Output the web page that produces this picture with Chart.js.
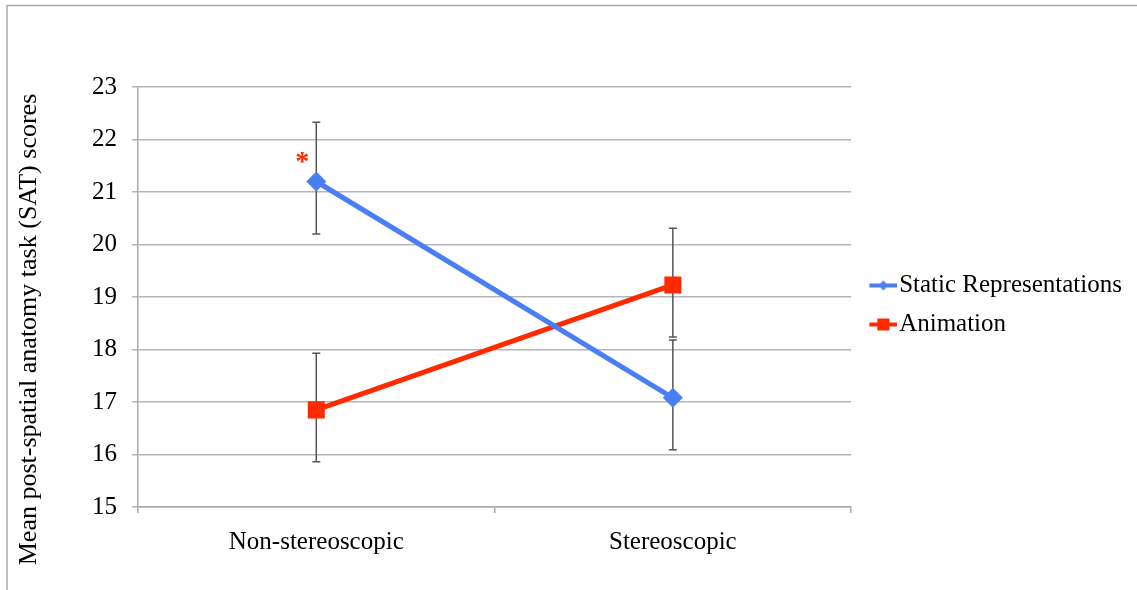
<!DOCTYPE html>
<html>
<head>
  <meta charset="utf-8" />
  <title>SAT scores</title>
  <script src="https://cdn.jsdelivr.net/npm/chart.js"></script>
  <style>
    html, body { margin: 0; padding: 0; background: #fff; }
    #wrap { width: 1137px; height: 590px; }
  </style>
</head>
<body>
  <div id="wrap"><canvas id="chart" width="1137" height="590"></canvas></div>
<script>
  // categories and values
  const categories = ["Non-stereoscopic", "Stereoscopic"];
  const staticValues = [21.2, 17.08];
  const staticUpper = [22.33, 18.18];
  const staticLower = [20.2, 16.09];
  const animationValues = [16.85, 19.23];
  const animationUpper = [17.93, 20.31];
  const animationLower = [15.86, 18.24];
  const yTicks = [15, 16, 17, 18, 19, 20, 21, 22, 23];
  const starMarks = [{ index: 0, value: 21.68 }];

  const blue = "#4a7ef5";
  const red = "#ff2a00";
  const serif = "'Liberation Serif', 'Times New Roman', serif";

  // legend icon: short line with marker, drawn in the right part of the image
  function legendIcon(color, shape) {
    const c = document.createElement("canvas");
    c.width = 43; c.height = 14;
    const ctx = c.getContext("2d");
    const o = 15;
    ctx.strokeStyle = color;
    ctx.lineWidth = 4;
    ctx.beginPath(); ctx.moveTo(o, 7); ctx.lineTo(o + 28, 7); ctx.stroke();
    ctx.fillStyle = color;
    if (shape === "diamond") {
      ctx.beginPath();
      ctx.moveTo(o + 14, 2); ctx.lineTo(o + 19, 7); ctx.lineTo(o + 14, 12); ctx.lineTo(o + 9, 7);
      ctx.closePath(); ctx.fill();
    } else {
      ctx.fillRect(o + 8, 1, 12, 12);
    }
    return c;
  }

  const errorBars = {
    id: "errorBars",
    beforeDatasetsDraw(chart) {
      const x = chart.scales.x, y = chart.scales.y, ctx = chart.ctx;
      const sets = [[staticUpper, staticLower], [animationUpper, animationLower]];
      ctx.save();
      ctx.strokeStyle = "#555";
      ctx.lineWidth = 1.5;
      sets.forEach(([up, lo]) => {
        up.forEach((u, i) => {
          const px = x.getPixelForValue(i);
          const top = y.getPixelForValue(u);
          const bot = y.getPixelForValue(lo[i]);
          ctx.beginPath();
          ctx.moveTo(px, top); ctx.lineTo(px, bot);
          ctx.moveTo(px - 4, top); ctx.lineTo(px + 4, top);
          ctx.moveTo(px - 4, bot); ctx.lineTo(px + 4, bot);
          ctx.stroke();
        });
      });
      ctx.restore();
    },
    afterDatasetsDraw(chart) {
      const x = chart.scales.x, y = chart.scales.y, ctx = chart.ctx;
      ctx.save();
      ctx.fillStyle = red;
      ctx.font = "bold 28px " + serif;
      ctx.textAlign = "center";
      ctx.textBaseline = "middle";
      starMarks.forEach((s) => {
        ctx.fillText("*", x.getPixelForValue(s.index) - 14, y.getPixelForValue(s.value) + 6);
      });
      ctx.restore();
    }
  };

  const frame = {
    id: "frame",
    beforeDraw(chart) {
      const ctx = chart.ctx;
      ctx.save();
      ctx.strokeStyle = "#a8a8a8";
      ctx.lineWidth = 1.5;
      ctx.beginPath();
      ctx.moveTo(7, chart.height); ctx.lineTo(7, 5.5); ctx.lineTo(chart.width, 5.5);
      ctx.stroke();
      ctx.restore();
    },
    // the legend sits a bit above the middle of its box
    afterLayout(chart) {
      chart.legend.top -= 24;
      chart.legend.bottom -= 24;
    }
  };

  new Chart(document.getElementById("chart"), {
    type: "line",
    data: {
      labels: categories,
      datasets: [
        {
          label: "Static Representations",
          data: staticValues,
          borderColor: blue,
          backgroundColor: blue,
          borderWidth: 5,
          pointStyle: "rectRot",
          pointRadius: 6.5,
          tension: 0,
        },
        {
          label: "Animation",
          data: animationValues,
          borderColor: red,
          backgroundColor: red,
          borderWidth: 5,
          pointStyle: "rect",
          pointRadius: 8.5,
          tension: 0,
        },
      ],
    },
    options: {
      responsive: false,
      animation: false,
      layout: { padding: { top: 87, left: 10, right: 5.5, bottom: 19 } },
      plugins: {
        tooltip: { enabled: false },
        legend: {
          position: "right",
          labels: {
            color: "#000",
            font: { family: serif, size: 25 },
            usePointStyle: true,
            boxWidth: 21.5,
            boxHeight: 14,
            padding: 14,
            generateLabels() {
              return [
                { text: "Static Representations", pointStyle: legendIcon(blue, "diamond"), datasetIndex: 0, fontColor: "#000" },
                { text: "Animation", pointStyle: legendIcon(red, "square"), datasetIndex: 1, fontColor: "#000" },
              ];
            },
          },
        },
      },
      scales: {
        x: {
          offset: true,
          grid: { offset: true, drawOnChartArea: false, color: "#aaa", lineWidth: 1.5, tickLength: 6 },
          border: { color: "#aaa", width: 1.5 },
          ticks: { color: "#000", font: { family: serif, size: 25 }, padding: 14 },
        },
        y: {
          min: 15,
          max: 23,
          afterBuildTicks(scale) { scale.ticks = yTicks.map((v) => ({ value: v })); },
          afterFit(scale) { scale.width = 128; },
          grid: { color: "#b5b5b5", lineWidth: 1.5, tickLength: 6 },
          border: { color: "#aaa", width: 1.5 },
          ticks: { color: "#000", font: { family: serif, size: 25 }, padding: 15 },
          title: {
            display: true,
            text: "Mean post-spatial anatomy task (SAT) scores          ",
            color: "#000",
            font: { family: serif, size: 26 },
            padding: { top: 4, bottom: 0 },
          },
        },
      },
    },
    plugins: [frame, errorBars],
  });
</script>
</body>
</html>
